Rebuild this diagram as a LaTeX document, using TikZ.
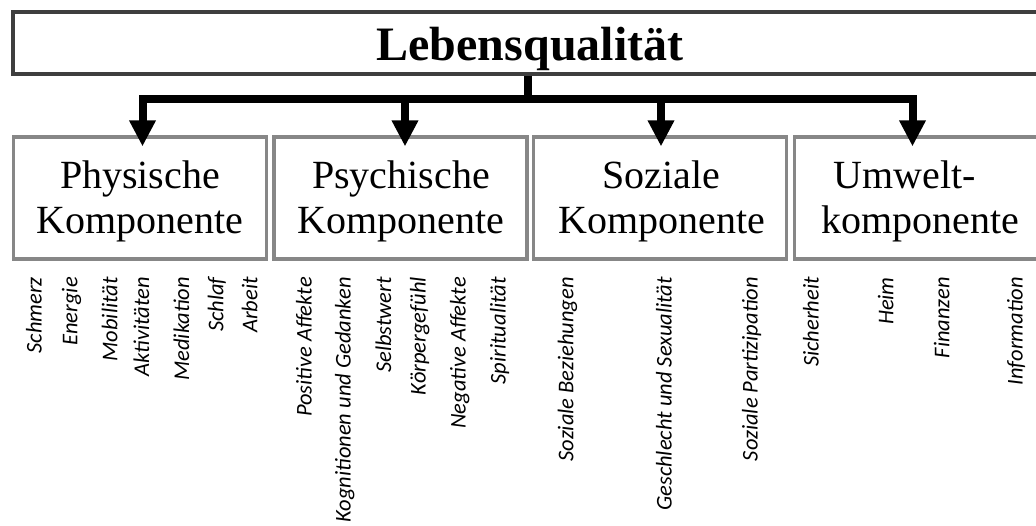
\documentclass[tikz,border=0pt]{standalone}
\usepackage{fontspec}
\setmainfont{Liberation Serif}
\newfontfamily\labfont{Carlito}
\usetikzlibrary{arrows.meta}
\definecolor{titleborder}{RGB}{62,62,62}
\definecolor{compborder}{RGB}{135,135,135}
\tikzset{
  titlebox/.style={draw=titleborder, line width=3.6pt, minimum width=1034pt, minimum height=62pt,
    inner sep=0pt, font=\fontsize{48}{48}\selectfont\bfseries, text height=34pt, text depth=0pt},
  compbox/.style={draw=compborder, line width=3.2pt, minimum width=253pt, minimum height=122pt, inner sep=0pt},
  comptext/.style={anchor=base, inner sep=0pt, font=\fontsize{40}{45}\selectfont},
  bar/.style={line width=8pt, draw=black},
  downarrow/.style={line width=8pt, draw=black, -{Triangle[width=25pt 0 0, length=26pt 0 0]}, shorten >=-11pt},
  lab/.style={rotate=90, anchor=base east, inner sep=0pt, font=\labfont\itshape\fontsize{22.5}{24}\selectfont}
}
\begin{document}
\begin{tikzpicture}[x=1pt, y=-1pt]
\useasboundingbox (0,0) rectangle (1036,525);
\fill[white] (0,0) rectangle (1036,525);
\clip (0,0) rectangle (1036,525);

% title
\node[titlebox] (title) at (530,43) {Lebensqualität};

% component boxes
\node[compbox] (phys) at (140,198) {};
\node[compbox] (psych) at (400.5,198) {};
\node[compbox] (soz) at (660.3,198) {};
\node[compbox] (umw) at (921,198) {};

\node[comptext] (physA) at (140,188) {Physische};
\node[comptext] (physB) at (140,233) {Komponente};
\node[comptext] (psychA) at (401,188) {Psychische};
\node[comptext] (psychB) at (401,233) {Komponente};
\node[comptext] (sozA) at (661,188) {Soziale};
\node[comptext] (sozB) at (662,233) {Komponente};
\node[comptext] (umwA) at (905,188) {Umwelt-};
\node[comptext] (umwB) at (920,233) {komponente};

% connectors
\coordinate (hub) at (527.5,98.5);
\coordinate (a1) at (142.5,98.5);
\coordinate (a2) at (405,98.5);
\coordinate (a3) at (661,98.5);
\coordinate (a4) at (912.5,98.5);
\draw[bar] (title.south -| hub) -- (hub);
\draw[bar, line cap=rect] (a1) -- (a4);
\draw[downarrow] (a1) -- (a1 |- phys.north);
\draw[downarrow] (a2) -- (a2 |- psych.north);
\draw[downarrow] (a3) -- (a3 |- soz.north);
\draw[downarrow] (a4) -- (a4 |- umw.north);

% labels
\node[lab] (l1) at (41.7,277) {Schmerz};
\node[lab] (l2) at (77.3,277) {Energie};
\node[lab] (l3) at (117.3,277) {Mobilität};
\node[lab] (l4) at (149,277) {Aktivitäten};
\node[lab] (l5) at (189,277) {Medikation};
\node[lab] (l6) at (223.3,277) {Schlaf};
\node[lab] (l7) at (257.3,277) {Arbeit};
\node[lab] (l8) at (311.7,277) {Positive Affekte};
\node[lab] (l9) at (350.7,277) {Kognitionen und Gedanken};
\node[lab] (l10) at (391,277) {Selbstwert};
\node[lab] (l11) at (425.7,277) {Körpergefühl};
\node[lab] (l12) at (465.7,277) {Negative Affekte};
\node[lab] (l13) at (505.7,277) {Spiritualität};
\node[lab] (l14) at (573.3,277) {Soziale Beziehungen};
\node[lab] (l15) at (671.7,277) {Geschlecht und Sexualität};
\node[lab] (l16) at (757.5,277) {Soziale Partizipation};
\node[lab] (l17) at (818.7,277) {Sicherheit};
\node[lab] (l18) at (893.3,277) {Heim};
\node[lab] (l19) at (949.3,277) {Finanzen};
\node[lab] (l20) at (1022.7,277) {Information};
\end{tikzpicture}
\end{document}
